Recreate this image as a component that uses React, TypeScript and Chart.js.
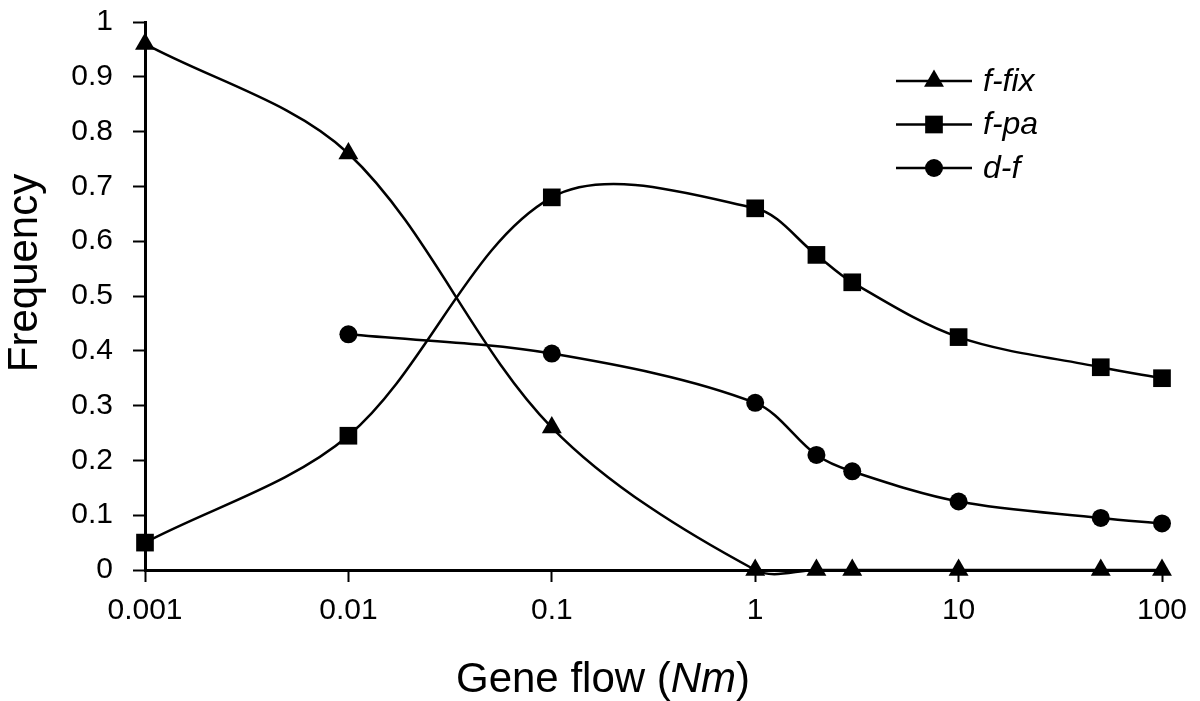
import React, { useEffect, useRef } from 'react';
import { Chart, registerables } from 'chart.js';

Chart.register(...registerables);

// ---- data ----
const xValues = [0.001, 0.01, 0.1, 1, 2, 3, 10, 50, 100];
const fFix: (number | null)[] = [0.96, 0.76, 0.26, 0, 0, 0, 0, 0, 0];
const fPa: (number | null)[] = [0.05, 0.245, 0.68, 0.66, 0.575, 0.525, 0.425, 0.37, 0.35];
const dF: (number | null)[] = [null, 0.43, 0.395, 0.305, 0.21, 0.18, 0.125, 0.095, 0.085];
const seriesLabels = ['f-fix', 'f-pa', 'd-f'];
const xTickValues = [0.001, 0.01, 0.1, 1, 10, 100];
const yMin = 0;
const yMax = 1;
const yStep = 0.1;
const xTitleParts = [
  { text: 'Gene flow (', italic: false },
  { text: 'Nm', italic: true },
  { text: ')', italic: false },
];
const yTitle = 'Frequency';

const FONT = '"Liberation Sans", Arial, Helvetica, sans-serif';
const pointStyles = ['triangle', 'rect', 'circle'];
const pointRadii = [11.5, 12.5, 9];

function drawMarker(ctx: CanvasRenderingContext2D, style: string, r: number, x: number, y: number) {
  ctx.beginPath();
  if (style === 'triangle') {
    let rad = 0;
    ctx.moveTo(x + Math.sin(rad) * r, y - Math.cos(rad) * r);
    rad += (2 * Math.PI) / 3;
    ctx.lineTo(x + Math.sin(rad) * r, y - Math.cos(rad) * r);
    rad += (2 * Math.PI) / 3;
    ctx.lineTo(x + Math.sin(rad) * r, y - Math.cos(rad) * r);
    ctx.closePath();
  } else if (style === 'rect') {
    const s = Math.SQRT1_2 * r;
    ctx.rect(x - s, y - s, 2 * s, 2 * s);
  } else {
    ctx.arc(x, y, r, 0, Math.PI * 2);
  }
  ctx.fill();
}

const decorPlugin = {
  id: 'decor',
  afterDraw(chart: any) {
    const ctx: CanvasRenderingContext2D = chart.ctx;
    ctx.save();
    ctx.fillStyle = '#000';
    ctx.strokeStyle = '#000';

    // legend
    const lx0 = 896;
    const lx1 = 972;
    const ly0 = 81;
    const lgap = 43.5;
    chart.data.datasets.forEach((ds: any, i: number) => {
      const y = ly0 + i * lgap;
      ctx.lineWidth = 2.5;
      ctx.beginPath();
      ctx.moveTo(lx0, y);
      ctx.lineTo(lx1, y);
      ctx.stroke();
      drawMarker(ctx, ds.pointStyle, ds.pointRadius, (lx0 + lx1) / 2, y);
      ctx.font = `italic 32px ${FONT}`;
      ctx.textAlign = 'left';
      ctx.textBaseline = 'middle';
      ctx.fillText(ds.label, 983, y + 1);
    });

    // x title
    ctx.textBaseline = 'alphabetic';
    ctx.textAlign = 'left';
    const fontFor = (it: boolean) => `${it ? 'italic ' : ''}42px ${FONT}`;
    let total = 0;
    xTitleParts.forEach((p) => {
      ctx.font = fontFor(p.italic);
      total += ctx.measureText(p.text).width;
    });
    let x = 603 - total / 2;
    xTitleParts.forEach((p) => {
      ctx.font = fontFor(p.italic);
      ctx.fillText(p.text, x, 692);
      x += ctx.measureText(p.text).width;
    });

    // y title
    ctx.translate(37, 273);
    ctx.rotate(-Math.PI / 2);
    ctx.font = `42px ${FONT}`;
    ctx.textAlign = 'center';
    ctx.fillText(yTitle, 0, 0);
    ctx.restore();
  },
};

export default function App() {
  const ref = useRef<HTMLCanvasElement>(null);

  useEffect(() => {
    if (!ref.current) return;
    const toPts = (vals: (number | null)[]) =>
      xValues.map((x, i) => ({ x, y: vals[i] })).filter((p) => p.y !== null);

    const datasets = [fFix, fPa, dF].map((vals, i) => ({
      label: seriesLabels[i],
      data: toPts(vals) as any,
      borderColor: '#000',
      backgroundColor: '#000',
      borderWidth: 2.5,
      pointStyle: pointStyles[i],
      pointRadius: pointRadii[i],
      pointHoverRadius: pointRadii[i],
      pointBorderWidth: 0,
      pointBackgroundColor: '#000',
      tension: 0.33,
      capBezierPoints: false,
      clip: false as any,
      fill: false,
    }));

    const tickFont = { family: FONT, size: 30 };
    const grid = {
      display: true,
      drawOnChartArea: false,
      drawTicks: true,
      tickLength: 12,
      tickWidth: 2,
      tickColor: '#000',
    };
    const border = { display: true, color: '#000', width: 3 };
    const zeroPad = (s: any) => {
      s.paddingTop = 0;
      s.paddingBottom = 0;
      s.paddingLeft = 0;
      s.paddingRight = 0;
    };

    const chart = new Chart(ref.current, {
      type: 'line',
      data: { datasets },
      options: {
        animation: false,
        responsive: false,
        devicePixelRatio: 1,
        layout: { padding: { left: 0, right: 38, top: 22, bottom: 0 } },
        plugins: { legend: { display: false }, tooltip: { enabled: false } },
        events: [],
        scales: {
          x: {
            type: 'logarithmic',
            min: xTickValues[0],
            max: xTickValues[xTickValues.length - 1],
            afterBuildTicks: (s: any) => {
              s.ticks = xTickValues.map((v) => ({ value: v }));
            },
            afterFit: (s: any) => {
              s.height = 131;
              zeroPad(s);
            },
            ticks: {
              callback: (v: any) => String(v),
              font: tickFont,
              color: '#000',
              padding: 11,
              autoSkip: false,
              maxRotation: 0,
              minRotation: 0,
            },
            grid,
            border,
          },
          y: {
            type: 'linear',
            min: yMin,
            max: yMax,
            afterFit: (s: any) => {
              s.width = 145;
              zeroPad(s);
            },
            ticks: {
              stepSize: yStep,
              callback: (v: any) => String(Math.round(Number(v) * 10) / 10),
              font: tickFont,
              color: '#000',
              padding: 20,
            },
            grid,
            border,
          },
        },
      } as any,
      plugins: [decorPlugin],
    });
    return () => chart.destroy();
  }, []);

  return (
    <div style={{ position: 'fixed', left: 0, top: 0, width: 1200, height: 701, background: '#fff' }}>
      <canvas ref={ref} width={1200} height={701} style={{ width: 1200, height: 701, display: 'block' }} />
    </div>
  );
}
